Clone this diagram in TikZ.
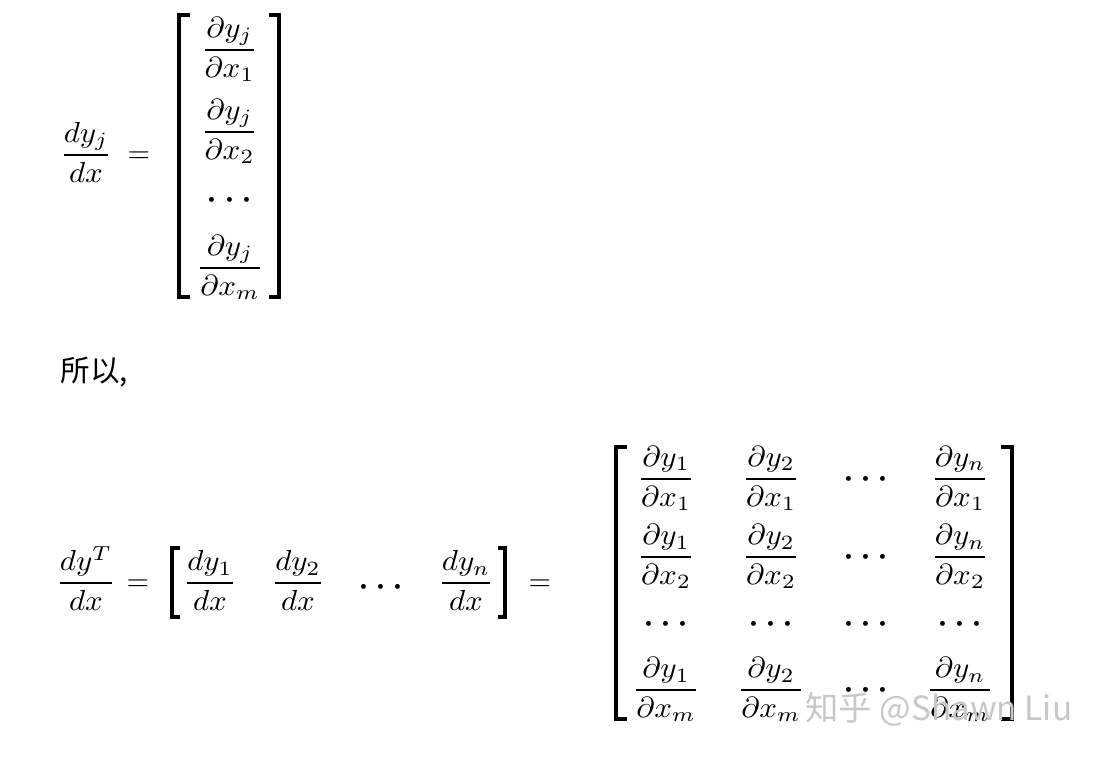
\documentclass[tikz,border=0pt]{standalone}
\usepackage{amsmath}
\usepackage{fontspec}
\newfontfamily\cjk{Noto Sans CJK SC}
\def\hsc{1.07}
\newcommand{\fr}[2]{\scalebox{\hsc}[1]{$\displaystyle\frac{#1}{#2}$}}
\newcommand{\onedot}{\makebox[6pt]{\raisebox{-1.5pt}{\scalebox{1.6}{$\cdot$}}}}
\newcommand{\dts}{\onedot\onedot\onedot}
\tikzset{
  mth/.style={anchor=base, inner sep=0pt, outer sep=0pt},
  brk/.style={line width=1.1pt, line join=miter, line cap=butt},
  txt/.style={anchor=base west, inner sep=0pt, font=\cjk\fontsize{10.2pt}{12pt}\selectfont},
  wmark/.style={anchor=base west, inner sep=0pt, text=black!22, font=\cjk\fontsize{11.5pt}{13pt}\selectfont}
}
\begin{document}
\begin{tikzpicture}[x=0.3448pt, y=-0.3448pt]
\useasboundingbox (0,0) rectangle (1096,756);
% ---------- top: column vector ----------
\node[mth] (lhs1) at (86,162.25) {\fr{dy_j}{dx}};
\node[mth] (eq1) at (139,162.25) {$=$};
\coordinate (tl1) at (190,15); \coordinate (bl1) at (190,297);
\coordinate (tr1) at (269,15); \coordinate (br1) at (269,297);
\draw[brk] (tl1) -- (179,15) -- (179,297) -- (bl1);
\draw[brk] (tr1) -- (279,15) -- (279,297) -- (br1);
\node[mth] (a1) at (229.5,57.25) {\fr{\partial y_j}{\partial x_1}};
\node[mth] (a2) at (229.5,139.25) {\fr{\partial y_j}{\partial x_2}};
\node[mth] (a3) at (229.5,207.25) {\dts};
\node[mth] (a4) at (230,275.25) {\fr{\partial y_j}{\partial x_m}};
% ---------- text ----------
\node[txt] (so) at (60,381) {所以,};
% ---------- middle: row vector ----------
\node[mth] (lhs2) at (86,590.25) {\fr{dy^T}{dx}};
\node[mth] (eq2) at (138,590.25) {$=$};
\coordinate (tl2) at (180,548); \coordinate (bl2) at (180,617);
\coordinate (tr2) at (498,548); \coordinate (br2) at (498,617);
\draw[brk] (tl2) -- (172,548) -- (172,617) -- (bl2);
\draw[brk] (tr2) -- (505,548) -- (505,617) -- (br2);
\node[mth] (b1) at (210,590.25) {\fr{dy_1}{dx}};
\node[mth] (b2) at (298,590.25) {\fr{dy_2}{dx}};
\node[mth] (b3) at (381,594.25) {\dts};
\node[mth] (b4) at (466,590.25) {\fr{dy_n}{dx}};
\node[mth] (eq3) at (540,590.25) {$=$};
% ---------- Jacobian matrix ----------
\coordinate (tl3) at (627,447); \coordinate (bl3) at (627,719);
\coordinate (tr3) at (1001,447); \coordinate (br3) at (1001,719);
\draw[brk] (tl3) -- (616,447) -- (616,719) -- (bl3);
\draw[brk] (tr3) -- (1012,447) -- (1012,719) -- (br3);
% row 1
\node[mth] (c11) at (666,486.25) {\fr{\partial y_1}{\partial x_1}};
\node[mth] (c12) at (771,486.25) {\fr{\partial y_2}{\partial x_1}};
\node[mth] (c13) at (866,486.25) {\dts};
\node[mth] (c14) at (960,486.25) {\fr{\partial y_n}{\partial x_1}};
% row 2
\node[mth] (c21) at (666,564.25) {\fr{\partial y_1}{\partial x_2}};
\node[mth] (c22) at (771,564.25) {\fr{\partial y_2}{\partial x_2}};
\node[mth] (c23) at (866,564.25) {\dts};
\node[mth] (c24) at (960,564.25) {\fr{\partial y_n}{\partial x_2}};
% row 3
\node[mth] (c31) at (666,631.25) {\dts};
\node[mth] (c32) at (771,631.25) {\dts};
\node[mth] (c33) at (866,631.25) {\dts};
\node[mth] (c34) at (960,631.25) {\dts};
% row 4
\node[mth] (c41) at (666,697.25) {\fr{\partial y_1}{\partial x_m}};
\node[mth] (c42) at (771,697.25) {\fr{\partial y_2}{\partial x_m}};
\node[mth] (c43) at (866,697.25) {\dts};
\node[mth] (c44) at (960,697.25) {\fr{\partial y_n}{\partial x_m}};
% ---------- watermark ----------
\node[wmark] (wm) at (805,720) {知乎 @Shawn Liu};
\end{tikzpicture}
\end{document}
